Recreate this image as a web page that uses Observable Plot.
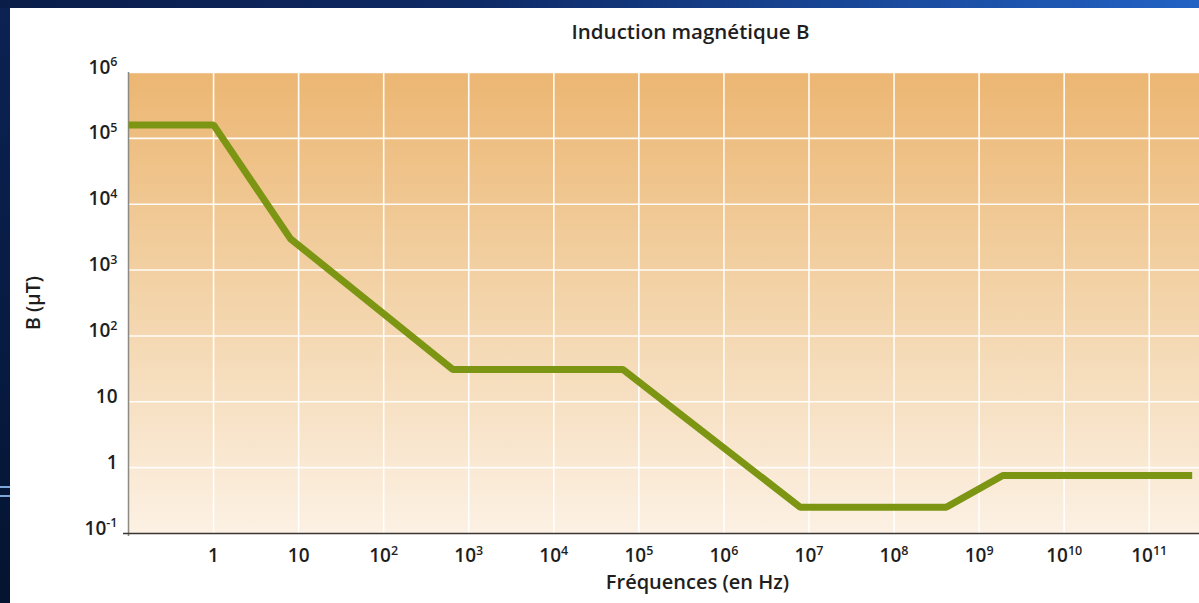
<!DOCTYPE html>
<html>
<head>
<meta charset="utf-8">
<script src="https://cdn.jsdelivr.net/npm/d3@7"></script>
<script src="https://cdn.jsdelivr.net/npm/@observablehq/plot@0.6"></script>
<style>
  html, body { margin: 0; padding: 0; }
  body {
    width: 1199px; height: 603px; overflow: hidden; position: relative;
    background: linear-gradient(to right, #0a1d48 0%, #0e2a66 40%, #1a4b9e 75%, #2262c4 100%);
    font-family: "Open Sans", "Noto Sans", sans-serif; color: #1e1e1e;
  }
  #leftstrip {
    position: absolute; left: 0; top: 8px; width: 10px; height: 595px;
    background: linear-gradient(to bottom, #0b2253 0%, #071a40 60%, #041430 100%);
  }
  .deco { position: absolute; left: 0; width: 10px; height: 2px; background: #7fa6d8; }
  #panel { position: absolute; left: 10px; top: 8px; width: 1189px; height: 595px; background: #fff; }
  #chart { position: absolute; left: 0; top: 0; }
  #title { position: absolute; left: 0; width: 1189px; top: 10px; text-align: center; padding-left: 172px; box-sizing: border-box; font-size: 20.5px; line-height: 26px; font-weight: 600; }
  #xlabel { position: absolute; left: 0; width: 1189px; top: 562px; text-align: center; padding-left: 186px; box-sizing: border-box; font-size: 20px; line-height: 24px; font-weight: 600; }
  #ylabel { position: absolute; left: 23px; top: 295px; width: 0; height: 0; }
  #ylabel span { position: absolute; transform: translate(-50%, -50%) rotate(-90deg); white-space: nowrap; font-size: 19.5px; line-height: 22px; font-weight: 600; }
</style>
</head>
<body>
<div id="leftstrip"></div>
<div class="deco" style="top:486px"></div>
<div class="deco" style="top:495px"></div>
<div id="panel">
  <div id="chart"></div>
  <div id="title">Induction magnétique B</div>
  <div id="xlabel">Fréquences (en Hz)</div>
  <div id="ylabel"><span>B (µT)</span></div>
</div>
<script>
// Data
const freqHz      = [0.1, 1, 8, 650, 65000, 7.9e6, 4.1e8, 1.9e9, 3.2e11];
const inductionUT = [1.6e5, 1.6e5, 3000, 31, 31, 0.25, 0.25, 0.76, 0.76];
const xTicks = [1, 10, 1e2, 1e3, 1e4, 1e5, 1e6, 1e7, 1e8, 1e9, 1e10, 1e11];
const yTicks = [0.1, 1, 10, 1e2, 1e3, 1e4, 1e5, 1e6];
const xTickLabels = ["1", "10", "10^2", "10^3", "10^4", "10^5", "10^6", "10^7", "10^8", "10^9", "10^10", "10^11"];
const yTickLabels = ["10^-1", "1", "10", "10^2", "10^3", "10^4", "10^5", "10^6"];

const data = freqHz.map((f, i) => ({f, b: inductionUT[i]}));

const plotEl = Plot.plot({
  width: 1189,
  height: 595,
  marginLeft: 118,
  marginRight: 0,
  marginTop: 64,
  marginBottom: 70,
  style: {fontFamily: '"Open Sans", "Noto Sans", sans-serif', fontSize: "18px", color: "#1e1e1e", background: "transparent", overflow: "visible"},
  x: {type: "log", domain: [0.1, 3.9e11]},
  y: {type: "log", domain: [0.1, 1e6]},
  marks: [
    Plot.frame({fill: "url(#plotbg)", stroke: "none"}),
    Plot.gridX(xTicks, {stroke: "#ffffff", strokeOpacity: 0.95, strokeWidth: 1.6}),
    Plot.gridY(yTicks.filter(d => d > 0.1), {stroke: "#ffffff", strokeOpacity: 0.95, strokeWidth: 1.6}),
    Plot.ruleX([0.1], {stroke: "#8d8983", strokeWidth: 1.5, insetBottom: -3}),
    Plot.ruleY([0.1], {stroke: "#3b3631", strokeWidth: 1.5, insetLeft: -5}),
    Plot.axisX({ticks: xTicks, tickSize: 0, tickPadding: 15, label: null,
      tickFormat: d => xTickLabels[xTicks.indexOf(d)]}),
    Plot.axisY({ticks: yTicks, tickSize: 0, tickPadding: 11, label: null, dy: -5,
      tickFormat: d => yTickLabels[yTicks.indexOf(d)]}),
    Plot.line(data, {x: "f", y: "b", stroke: "#7c9614", strokeWidth: 7, strokeLinejoin: "miter", strokeLinecap: "butt"})
  ]
});

// gradient for the plot background
const svg = d3.select(plotEl);
const defs = svg.insert("defs", ":first-child");
const grad = defs.append("linearGradient").attr("id", "plotbg").attr("x1", 0).attr("y1", 0).attr("x2", 0).attr("y2", 1);
grad.append("stop").attr("offset", "0%").attr("stop-color", "#ecb672");
grad.append("stop").attr("offset", "50%").attr("stop-color", "#f3d4aa");
grad.append("stop").attr("offset", "100%").attr("stop-color", "#fcf1e4");

// tick label styling and superscript exponents
svg.selectAll("text").each(function() {
  const sel = d3.select(this);
  sel.style("font-size", "19px").style("fill", "#1e1e1e").style("font-weight", "600");
  const t = this.textContent;
  if (t.includes("^")) {
    const [base, exp] = t.split("^");
    sel.text(base);
    sel.append("tspan").attr("dy", "-0.6em").style("font-size", "12.5px").text(exp);
  }
});

document.getElementById("chart").appendChild(plotEl);
</script>
</body>
</html>
